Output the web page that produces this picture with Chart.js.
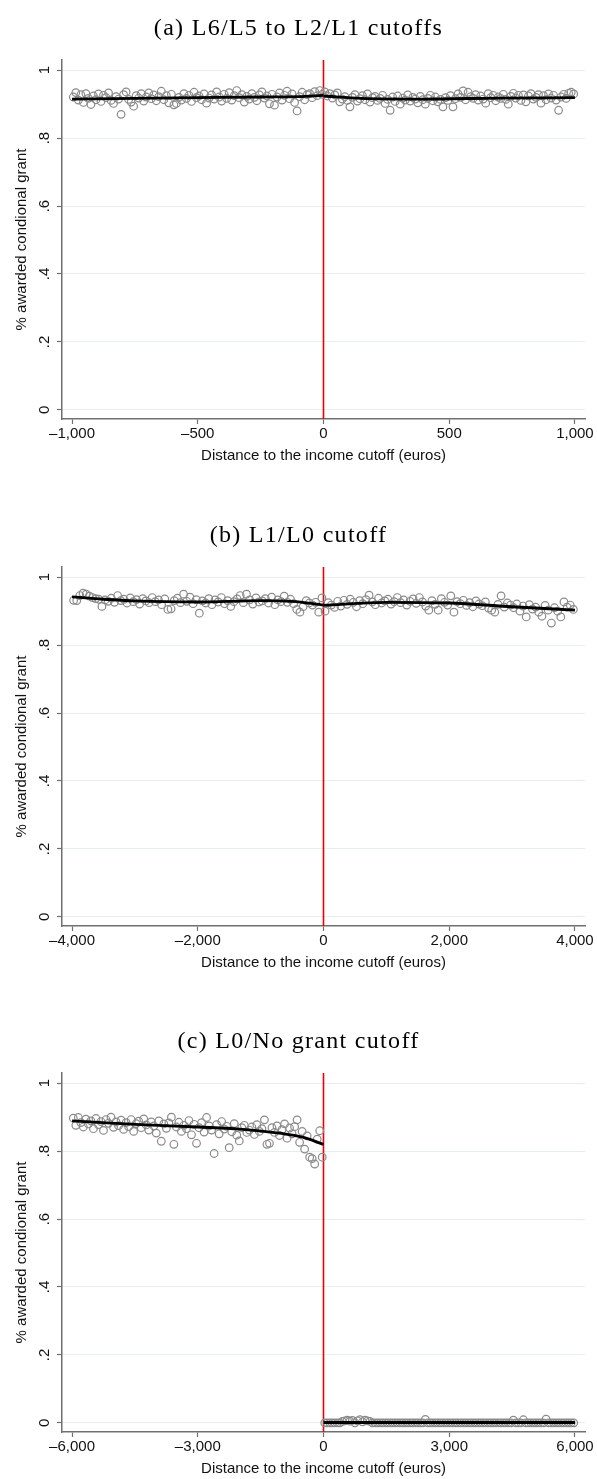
<!DOCTYPE html>
<html>
<head>
<meta charset="utf-8">
<title>Conditional grant by distance to the income cutoff</title>
<script src="https://cdn.jsdelivr.net/npm/chart.js@4.4.1/dist/chart.umd.min.js"></script>
<style>
  html, body { margin: 0; padding: 0; background: #fff; }
  .panel { position: relative; width: 597px; }
  .panel canvas { display: block; }
  .panel .caption {
    position: absolute; left: 0; top: 12px; width: 597px;
    text-align: center; white-space: pre;
    font-family: "Liberation Serif", serif; font-size: 24px; line-height: 30px;
    letter-spacing: 1.3px; color: #000;
  }
</style>
</head>
<body>
<div class="panel"><div class="caption">(a) L6/L5 to L2/L1 cutoffs</div><canvas id="panelA" width="597" height="507"></canvas></div>
<div class="panel"><div class="caption">(b) L1/L0 cutoff</div><canvas id="panelB" width="597" height="506"></canvas></div>
<div class="panel"><div class="caption">(c) L0/No grant cutoff</div><canvas id="panelC" width="597" height="466"></canvas></div>
<script>
// shared y axis
const yTicks = [0, 0.2, 0.4, 0.6, 0.8, 1];
const yTickLabels = ["0", ".2", ".4", ".6", ".8", "1"];

// (a) L6/L5 to L2/L1 cutoffs, 10-euro bins
const xTicksA = [-1000, -500, 0, 500, 1000];
const binWidthA = 10;
const shareLeftA = [
  0.921, 0.934, 0.912, 0.928, 0.905, 0.931, 0.917, 0.899, 0.924, 0.913,
  0.930, 0.908, 0.926, 0.919, 0.933, 0.911, 0.902, 0.922, 0.915, 0.870,
  0.928, 0.936, 0.914, 0.906, 0.894, 0.925, 0.918, 0.931, 0.909, 0.921,
  0.933, 0.916, 0.927, 0.910, 0.922, 0.938, 0.913, 0.925, 0.904, 0.929,
  0.898, 0.902, 0.920, 0.912, 0.931, 0.917, 0.926, 0.908, 0.935, 0.919,
  0.924, 0.913, 0.930, 0.903, 0.918, 0.927, 0.915, 0.936, 0.921, 0.909,
  0.929, 0.917, 0.934, 0.912, 0.925, 0.940, 0.919, 0.928, 0.906, 0.923,
  0.915, 0.931, 0.920, 0.910, 0.927, 0.936, 0.918, 0.924, 0.901, 0.929,
  0.897, 0.921, 0.933, 0.912, 0.926, 0.938, 0.916, 0.930, 0.905, 0.880,
  0.922, 0.935, 0.913, 0.928, 0.931, 0.919, 0.937, 0.925, 0.940, 0.929
];
const shareRightA = [
  0.936, 0.924, 0.931, 0.918, 0.927, 0.933, 0.907, 0.915, 0.922, 0.911,
  0.892, 0.920, 0.928, 0.909, 0.916, 0.925, 0.913, 0.930, 0.906, 0.919,
  0.923, 0.911, 0.917, 0.926, 0.902, 0.914, 0.882, 0.921, 0.908, 0.924,
  0.900, 0.918, 0.912, 0.927, 0.909, 0.920, 0.915, 0.904, 0.923, 0.913,
  0.900, 0.917, 0.926, 0.910, 0.921, 0.907, 0.914, 0.892, 0.919, 0.911,
  0.925, 0.892, 0.916, 0.930, 0.920, 0.939, 0.913, 0.935, 0.922, 0.917,
  0.928, 0.912, 0.924, 0.915, 0.903, 0.931, 0.919, 0.926, 0.910, 0.921,
  0.917, 0.929, 0.914, 0.900, 0.923, 0.932, 0.918, 0.926, 0.911, 0.927,
  0.907, 0.924, 0.931, 0.915, 0.920, 0.928, 0.903, 0.925, 0.913, 0.930,
  0.918, 0.926, 0.912, 0.882, 0.921, 0.929, 0.917, 0.932, 0.935, 0.930
];
const fitXLeftA = [-1000, -750, -500, -250, -100, 0];
const fitLeftA = [0.915, 0.917, 0.919, 0.921, 0.922, 0.926];
const fitXRightA = [0, 150, 400, 700, 1000];
const fitRightA = [0.924, 0.917, 0.915, 0.918, 0.919];

// (b) L1/L0 cutoff, 50-euro bins
const xTicksB = [-4000, -2000, 0, 2000, 4000];
const binWidthB = 50;
const shareLeftB = [
  0.932, 0.931, 0.946, 0.953, 0.950, 0.944, 0.940, 0.937, 0.935, 0.914,
  0.933, 0.929, 0.938, 0.926, 0.946, 0.931, 0.935, 0.924, 0.939, 0.928,
  0.934, 0.921, 0.937, 0.930, 0.925, 0.940, 0.928, 0.933, 0.919, 0.936,
  0.905, 0.907, 0.931, 0.938, 0.925, 0.950, 0.929, 0.941, 0.922, 0.934,
  0.894, 0.930, 0.924, 0.937, 0.919, 0.933, 0.927, 0.940, 0.922, 0.931,
  0.914, 0.928, 0.936, 0.946, 0.925, 0.950, 0.933, 0.921, 0.939, 0.927,
  0.930, 0.937, 0.924, 0.941, 0.919, 0.933, 0.928, 0.944, 0.926, 0.935,
  0.922, 0.905, 0.897, 0.913, 0.931, 0.924, 0.918, 0.926, 0.897, 0.939
];
const shareRightB = [
  0.900, 0.925, 0.918, 0.911, 0.929, 0.915, 0.932, 0.920, 0.935, 0.926,
  0.913, 0.931, 0.922, 0.934, 0.947, 0.927, 0.919, 0.938, 0.924, 0.930,
  0.935, 0.921, 0.928, 0.940, 0.925, 0.933, 0.918, 0.929, 0.936, 0.923,
  0.940, 0.927, 0.915, 0.903, 0.931, 0.920, 0.903, 0.937, 0.926, 0.918,
  0.945, 0.897, 0.928, 0.922, 0.932, 0.917, 0.925, 0.913, 0.930, 0.921,
  0.916, 0.927, 0.909, 0.903, 0.897, 0.920, 0.945, 0.912, 0.924, 0.918,
  0.910, 0.921, 0.900, 0.915, 0.883, 0.919, 0.906, 0.912, 0.897, 0.885,
  0.917, 0.903, 0.865, 0.910, 0.900, 0.883, 0.927, 0.912, 0.918, 0.905
];
const fitXLeftB = [-4000, -3500, -3000, -2000, -1000, -500, 0];
const fitLeftB = [0.942, 0.935, 0.930, 0.927, 0.931, 0.929, 0.918];
const fitXRightB = [0, 1000, 2000, 3000, 4000];
const fitRightB = [0.917, 0.926, 0.924, 0.913, 0.903];

// (c) L0/No grant cutoff, 60-euro bins
const xTicksC = [-6000, -3000, 0, 3000, 6000];
const binWidthC = 60;
const shareLeftC = [
  0.897, 0.876, 0.899, 0.884, 0.871, 0.894, 0.880, 0.889, 0.866, 0.896,
  0.878, 0.887, 0.861, 0.893, 0.882, 0.900, 0.870, 0.886, 0.875, 0.891,
  0.864, 0.884, 0.872, 0.893, 0.858, 0.881, 0.888, 0.869, 0.895, 0.877,
  0.862, 0.886, 0.874, 0.853, 0.889, 0.829, 0.880, 0.867, 0.883, 0.900,
  0.820, 0.871, 0.885, 0.858, 0.876, 0.866, 0.890, 0.848, 0.879, 0.823,
  0.869, 0.884, 0.856, 0.899, 0.874, 0.862, 0.793, 0.878, 0.851, 0.887,
  0.865, 0.873, 0.810, 0.857, 0.881, 0.847, 0.830, 0.869, 0.876, 0.855,
  0.862, 0.871, 0.849, 0.878, 0.858, 0.866, 0.892, 0.820, 0.823, 0.869,
  0.855, 0.874, 0.846, 0.863, 0.880, 0.838, 0.868, 0.851, 0.872, 0.892,
  0.826, 0.858, 0.806, 0.845, 0.782, 0.778, 0.762, 0.835, 0.860, 0.782
];
const shareRightC = [
  0, 0, 0, 0, 0, 0, 0, 0.004, 0.006, 0.008,
  0.005, 0.007, 0, 0.006, 0.009, 0.003, 0.008, 0.006, 0.004, 0,
  0, 0, 0, 0, 0, 0, 0, 0, 0, 0,
  0, 0, 0, 0, 0, 0, 0, 0, 0, 0,
  0.010, 0, 0, 0, 0, 0, 0, 0, 0, 0,
  0, 0, 0, 0, 0, 0, 0, 0, 0, 0,
  0, 0, 0, 0, 0, 0, 0, 0, 0, 0,
  0, 0, 0, 0, 0, 0.008, 0, 0, 0, 0.009,
  0, 0, 0, 0, 0, 0, 0, 0, 0.011, 0,
  0, 0, 0, 0, 0, 0, 0, 0, 0, 0
];
const fitXLeftC = [-6000, -4500, -3000, -2000, -1000, -500, 0];
const fitLeftC = [0.889, 0.879, 0.871, 0.865, 0.852, 0.841, 0.820];
const fitXRightC = [0, 6000];
const fitRightC = [0.001, 0.001];

const AXIS_GRAY = "#707070";
const GRID_COLOR = "#e4edef";
const MARKER_GRAY = "#8a8a8a";
const TEXT = "#111";
const SANS = "Liberation Sans";
const Y_MIN = -0.027;
const Y_MAX = 1.03;

// bin centres for the values left (start -> 0) and right (0 -> end) of the cutoff
function binPoints(values, first, width) {
  return values.map((v, i) => ({ x: first + width * (i + 0.5), y: v }));
}

function curve(xs, ys) {
  return xs.map((x, i) => ({ x: x, y: ys[i] }));
}

function euroLabel(v) {
  const s = Math.abs(v).toLocaleString("en-US");
  return v < 0 ? "\u2013" + s : s;
}

// red vertical line at the cutoff, under the markers
const cutoffLine = {
  id: "cutoffLine",
  beforeDatasetsDraw(chart) {
    const { ctx, chartArea } = chart;
    const px = Math.round(chart.scales.x.getPixelForValue(0)) - 0.5;
    ctx.save();
    ctx.strokeStyle = "#f20000";
    ctx.lineWidth = 1.6;
    ctx.beginPath();
    ctx.moveTo(px, chartArea.top);
    ctx.lineTo(px, chartArea.bottom);
    ctx.stroke();
    ctx.restore();
  },
};

function makePanel(id, xTicks, binWidth, left, right, fits) {
  const canvas = document.getElementById(id);
  const xMax = xTicks[xTicks.length - 1] * 1.04;
  const points = binPoints(left, -left.length * binWidth, binWidth)
    .concat(binPoints(right, 0, binWidth));

  const fitSets = fits.map((f) => ({
    type: "line",
    data: f,
    borderColor: "#000",
    borderWidth: 2.8,
    pointRadius: 0,
    fill: false,
    cubicInterpolationMode: "monotone",
  }));

  return new Chart(canvas, {
    type: "scatter",
    data: {
      datasets: fitSets.concat([
        {
          data: points,
          borderColor: MARKER_GRAY,
          backgroundColor: "rgba(0,0,0,0)",
          pointRadius: 3.8,
          borderWidth: 1.2,
        },
      ]),
    },
    plugins: [cutoffLine],
    options: {
      responsive: false,
      animation: false,
      devicePixelRatio: 1,
      layout: {
        autoPadding: false,
        padding: { left: 0, right: 12, top: 60, bottom: canvas.height - 465 },
      },
      plugins: {
        legend: { display: false },
        tooltip: { enabled: false },
        title: { display: false },
      },
      scales: {
        x: {
          type: "linear",
          min: -xMax,
          max: xMax,
          afterBuildTicks: (s) => { s.ticks = xTicks.map((v) => ({ value: v })); },
          afterFit: (s) => { s.height = 46; },
          ticks: {
            callback: (v) => euroLabel(v),
            autoSkip: false,
            maxRotation: 0,
            padding: 1,
            color: TEXT,
            font: { family: SANS, size: 15 },
          },
          grid: { drawOnChartArea: false, tickColor: AXIS_GRAY, tickLength: 5, tickWidth: 1.2 },
          border: { color: AXIS_GRAY, width: 1.5 },
          title: {
            display: true,
            text: "Distance to the income cutoff (euros)",
            color: TEXT,
            font: { family: SANS, size: 15 },
            padding: { top: 0, bottom: 0 },
          },
        },
        y: {
          type: "linear",
          min: Y_MIN,
          max: Y_MAX,
          afterBuildTicks: (s) => { s.ticks = yTicks.map((v) => ({ value: v })); },
          afterFit: (s) => { s.width = 62; },
          ticks: {
            callback: (v) => yTickLabels[yTicks.indexOf(v)],
            minRotation: 90,
            maxRotation: 90,
            crossAlign: "center",
            padding: 6,
            color: TEXT,
            font: { family: SANS, size: 15 },
          },
          grid: { color: GRID_COLOR, lineWidth: 1, tickColor: AXIS_GRAY, tickLength: 5, tickWidth: 1.2 },
          border: { color: AXIS_GRAY, width: 1.5 },
          title: {
            display: true,
            text: "% awarded condional grant",
            color: TEXT,
            font: { family: SANS, size: 15 },
            padding: { top: 13, bottom: 0 },
          },
        },
      },
    },
  });
}

makePanel("panelA", xTicksA, binWidthA, shareLeftA, shareRightA,
  [curve(fitXLeftA, fitLeftA), curve(fitXRightA, fitRightA)]);
makePanel("panelB", xTicksB, binWidthB, shareLeftB, shareRightB,
  [curve(fitXLeftB, fitLeftB), curve(fitXRightB, fitRightB)]);
makePanel("panelC", xTicksC, binWidthC, shareLeftC, shareRightC,
  [curve(fitXLeftC, fitLeftC), curve(fitXRightC, fitRightC)]);
</script>
</body>
</html>
